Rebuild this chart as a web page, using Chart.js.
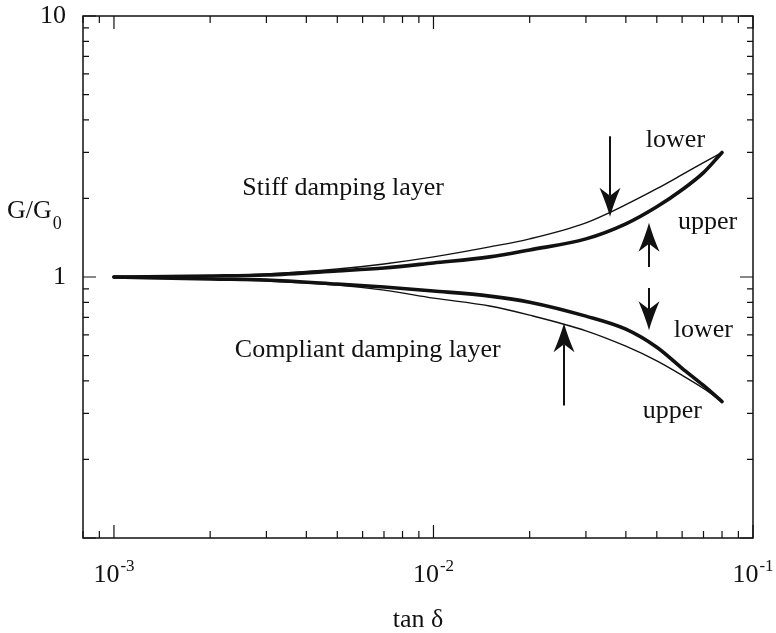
<!DOCTYPE html>
<html><head><meta charset="utf-8">
<script src="https://cdn.jsdelivr.net/npm/chart.js@4"></script>
<style>html,body{margin:0;padding:0;background:#fff}canvas{display:block}</style>
</head><body>
<canvas id="c" width="776" height="633"></canvas>
<script>
// ---- data ----
const tanDelta       = [0.001, 0.002, 0.003, 0.005, 0.007, 0.01, 0.015, 0.02, 0.03, 0.04, 0.05, 0.06, 0.07, 0.08];
const stiffLower     = [1.000, 1.009, 1.027, 1.073, 1.122, 1.194, 1.304, 1.400, 1.613, 1.893, 2.179, 2.467, 2.744, 3.000];
const stiffUpper     = [1.000, 1.009, 1.018, 1.055, 1.083, 1.132, 1.194, 1.270, 1.400, 1.599, 1.859, 2.160, 2.512, 3.000];
const compliantLower = [1.000, 0.982, 0.974, 0.940, 0.915, 0.884, 0.845, 0.801, 0.708, 0.631, 0.538, 0.447, 0.384, 0.333];
const compliantUpper = [1.000, 0.982, 0.965, 0.932, 0.891, 0.830, 0.774, 0.714, 0.622, 0.543, 0.477, 0.420, 0.374, 0.333];

const xMajorTicks = [0.001, 0.01, 0.1];
const xTickBase   = ['10', '10', '10'];
const xTickExp    = ['-3', '-2', '-1'];
const yMajorTicks = [1, 10];
const yTickLabels = ['1', '10'];

const xTitle = 'tan δ';
const yTitleMain = 'G/G';
const yTitleSub  = '0';

// annotation texts (anchored in data units: left / baseline)
const noteTexts = ['Stiff damping layer', 'Compliant damping layer', 'lower', 'upper', 'lower', 'upper'];
const noteX     = [2.52e-3, 2.39e-3, 0.0462, 0.0582, 0.0565, 0.0452];
const noteY     = [2.067, 0.492, 3.162, 1.530, 0.588, 0.287];
// arrows (data units): x, tail y, tip y
const arrowX    = [0.0356, 0.0472, 0.0472, 0.02556];
const arrowTail = [3.46, 1.093, 0.907, 0.322];
const arrowTip  = [1.701, 1.613, 0.625, 0.665];

const FONT = "'Liberation Serif','Times New Roman',serif";
const INK = '#111111';

function pts(ys) { return tanDelta.map((t, i) => ({x: t, y: ys[i]})); }

function drawArrow(ctx, px, tail, tip) {
  const dir = Math.sign(tip - tail);
  const HL = 29, HW = 10.5, notch = 8;
  ctx.lineWidth = 2;
  ctx.beginPath();
  ctx.moveTo(px, tail);
  ctx.lineTo(px, tip - dir * (HL - notch));
  ctx.stroke();
  ctx.beginPath();
  ctx.moveTo(px, tip);
  ctx.quadraticCurveTo(px - HW * 0.35, tip - dir * HL * 0.45, px - HW, tip - dir * HL);
  ctx.lineTo(px, tip - dir * (HL - notch));
  ctx.lineTo(px + HW, tip - dir * HL);
  ctx.quadraticCurveTo(px + HW * 0.35, tip - dir * HL * 0.45, px, tip);
  ctx.closePath();
  ctx.fill();
}

const decor = {
  id: 'decor',
  afterDatasetsDraw(chart) {
    const {ctx, chartArea: a, scales: {x, y}} = chart;
    ctx.save();
    ctx.strokeStyle = INK; ctx.fillStyle = INK;
    // frame
    ctx.lineWidth = 1.5;
    ctx.strokeRect(a.left, a.top, a.right - a.left, a.bottom - a.top);
    // inward tick marks
    ctx.lineWidth = 1.2;
    ctx.beginPath();
    for (let e = -4; e <= -1; e++) for (let m = 1; m <= 9; m++) {
      const v = m * Math.pow(10, e);
      if (v < x.min * 0.999 || v > x.max * 1.001) continue;
      const px = x.getPixelForValue(v);
      const L = m === 1 ? 13 : 7;
      ctx.moveTo(px, a.bottom); ctx.lineTo(px, a.bottom - L);
      ctx.moveTo(px, a.top); ctx.lineTo(px, a.top + L);
    }
    for (let e = -1; e <= 1; e++) for (let m = 1; m <= 9; m++) {
      const v = m * Math.pow(10, e);
      if (v < y.min * 0.999 || v > y.max * 1.001) continue;
      const py = y.getPixelForValue(v);
      const L = m === 1 ? 13 : 6;
      ctx.moveTo(a.left, py); ctx.lineTo(a.left + L, py);
      ctx.moveTo(a.right, py); ctx.lineTo(a.right - L, py);
    }
    ctx.stroke();
    // x tick labels with superscript exponent
    ctx.textBaseline = 'alphabetic';
    ctx.textAlign = 'left';
    xMajorTicks.forEach((v, i) => {
      const px = x.getPixelForValue(v);
      ctx.font = `26px ${FONT}`;
      const w1 = ctx.measureText(xTickBase[i]).width;
      ctx.font = `17px ${FONT}`;
      const w2 = ctx.measureText(xTickExp[i]).width;
      const start = px - (w1 + w2 + 1) / 2;
      const base = a.bottom + 44;
      ctx.font = `26px ${FONT}`;
      ctx.fillText(xTickBase[i], start, base);
      ctx.font = `17px ${FONT}`;
      ctx.fillText(xTickExp[i], start + w1 + 1, base - 11);
    });
    // y title G/G0 (horizontal)
    ctx.font = `26px ${FONT}`;
    ctx.fillText(yTitleMain, 7, 218);
    const wg = ctx.measureText(yTitleMain).width;
    ctx.font = `18px ${FONT}`;
    ctx.fillText(yTitleSub, 7 + wg + 1, 229);
    // annotation texts
    ctx.font = `26px ${FONT}`;
    noteTexts.forEach((t, i) => {
      ctx.fillText(t, x.getPixelForValue(noteX[i]), y.getPixelForValue(noteY[i]));
    });
    // arrows
    arrowX.forEach((v, i) => {
      drawArrow(ctx, Math.round(x.getPixelForValue(v)),
        y.getPixelForValue(arrowTail[i]), y.getPixelForValue(arrowTip[i]));
    });
    ctx.restore();
  }
};

new Chart(document.getElementById('c'), {
  type: 'line',
  data: {
    datasets: [
      {label: 'Stiff damping layer, lower', data: pts(stiffLower), borderColor: INK, borderWidth: 1.4},
      {label: 'Stiff damping layer, upper', data: pts(stiffUpper), borderColor: INK, borderWidth: 3.6},
      {label: 'Compliant damping layer, lower', data: pts(compliantLower), borderColor: INK, borderWidth: 3.6},
      {label: 'Compliant damping layer, upper', data: pts(compliantUpper), borderColor: INK, borderWidth: 1.4}
    ]
  },
  options: {
    responsive: false,
    animation: false,
    layout: {padding: {top: 16, right: 23, left: 0, bottom: 0}},
    plugins: {legend: {display: false}, tooltip: {enabled: false}},
    elements: {
      point: {radius: 0, hoverRadius: 0},
      line: {cubicInterpolationMode: 'monotone', borderCapStyle: 'round', borderJoinStyle: 'round', fill: false}
    },
    scales: {
      x: {
        type: 'logarithmic', min: 8e-4, max: 0.1,
        grid: {display: false, drawTicks: false},
        border: {display: false},
        ticks: {display: false},
        title: {display: true, text: xTitle, color: INK, padding: 0, font: {family: FONT, size: 26, lineHeight: 1}},
        afterFit(s) { s.height = 95; }
      },
      y: {
        type: 'logarithmic', min: 0.1, max: 10,
        grid: {display: false, drawTicks: true, tickLength: 17},
        border: {display: false},
        ticks: {
          autoSkip: false, padding: 0, color: INK,
          font: {family: FONT, size: 26, lineHeight: 1},
          callback: (v) => {
            const i = yMajorTicks.findIndex(t => Math.abs(t - v) / t < 1e-6);
            return i >= 0 ? yTickLabels[i] : '';
          }
        },
        afterFit(s) { s.width = 83; }
      }
    }
  },
  plugins: [decor]
});
</script>
</body></html>
